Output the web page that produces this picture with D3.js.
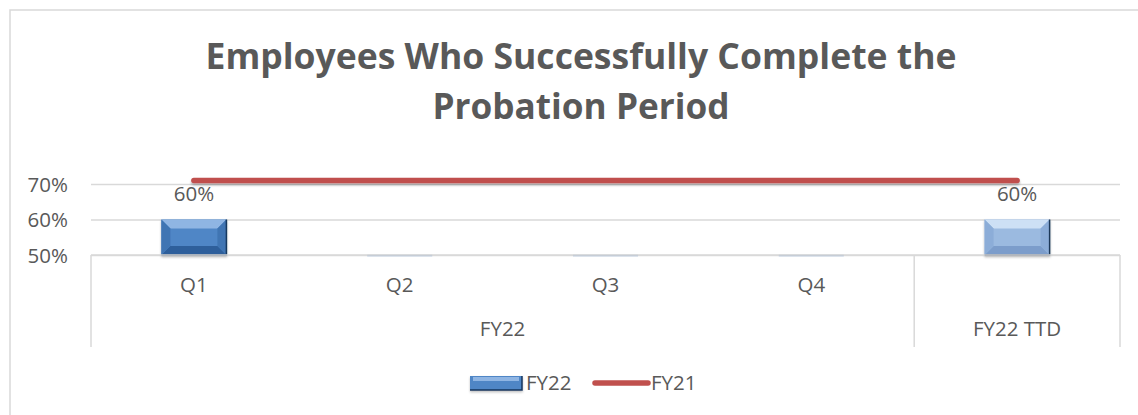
<!DOCTYPE html>
<html>
<head>
<meta charset="utf-8">
<script src="https://cdn.jsdelivr.net/npm/d3@7"></script>
<style>
  html, body { margin: 0; padding: 0; background: #fff; }
  svg { display: block; }
  text { font-family: "Open Sans", Lato, sans-serif; fill: #595959; }
</style>
</head>
<body>
<svg id="chart" width="1138" height="415"></svg>
<script>
// ---- data ----
const titleLines = ["Employees Who Successfully Complete the", "Probation Period"];
const categories = ["Q1", "Q2", "Q3", "Q4", "FY22 TTD"];
const categoryLabels = ["Q1", "Q2", "Q3", "Q4", ""];
const groupNames = ["FY22", "FY22 TTD"];
const groupSpans = [4, 1];
const fy22Values = [0.60, 0, 0, 0, 0.60];
const fy21Values = [0.71, 0.71, 0.71, 0.71, 0.71];
const yTicks = [0.5, 0.6, 0.7];
const seriesNames = ["FY22", "FY21"];

// ---- layout ----
const svg = d3.select("#chart");
const W = 1138, H = 415;
const plot = { left: 91, right: 1120, top: 184, bottom: 255 };
const textColor = "#595959", gridColor = "#d9d9d9";
const fs = "20.5px";

const defs = svg.append("defs");
const sh = defs.append("filter").attr("id", "lineShadow").attr("filterUnits", "userSpaceOnUse")
  .attr("x", 0).attr("y", 0).attr("width", W).attr("height", H);
sh.append("feDropShadow").attr("dx", 0).attr("dy", 2).attr("stdDeviation", 1.2).attr("flood-color", "#000").attr("flood-opacity", 0.3);
const bsh = defs.append("filter").attr("id", "barShadow").attr("filterUnits", "userSpaceOnUse")
  .attr("x", 0).attr("y", 0).attr("width", W).attr("height", H);
bsh.append("feDropShadow").attr("dx", 0).attr("dy", 1.5).attr("stdDeviation", 1.2).attr("flood-color", "#000").attr("flood-opacity", 0.25);

// outer border
svg.append("rect").attr("x", 10).attr("y", 10).attr("width", W + 20).attr("height", H + 20)
  .attr("fill", "#fff").attr("stroke", gridColor).attr("stroke-width", 1.5);

// title
const titleWidths = [751, 297];
const title = svg.append("text").attr("text-anchor", "middle")
  .style("font-weight", "bold").style("font-size", "35px");
title.selectAll("tspan").data(titleLines).join("tspan")
  .attr("x", 581).attr("y", (d, i) => 69 + i * 50)
  .attr("textLength", (d, i) => titleWidths[i]).attr("lengthAdjust", "spacingAndGlyphs")
  .text(d => d);

// scales
const x = d3.scaleBand().domain(categories).range([plot.left, plot.right]).padding(0);
const y = d3.scaleLinear().domain([0.5, 0.7]).range([plot.bottom, plot.top]);
const barW = x.bandwidth() * 0.316;

// gridlines & y labels
const yAxis = d3.axisLeft(y).tickValues(yTicks).tickFormat(d3.format(".0%"))
  .tickSize(-(plot.right - plot.left)).tickPadding(23);
const gy = svg.append("g").attr("transform", `translate(${plot.left},0)`).call(yAxis);
gy.select(".domain").remove();
gy.attr("font-family", null).attr("font-size", null);
gy.selectAll("line").attr("stroke", gridColor).attr("stroke-width", 1.5);
gy.selectAll("text").style("font-size", fs).attr("fill", textColor).attr("dy", "0.35em");

// bars
const palettes = [
  { main: "#4f86c6", top: "#8fb5e3", bottom: "#2d5e9b", side: "#3f74b3", edge: "#17375e" },
  { main: "#9bbae0", top: "#cde0f5", bottom: "#7c9dcb", side: "#8cadd8", edge: "#1f3759" }
];
const barG = svg.append("g");
categories.forEach((c, i) => {
  const v = fy22Values[i];
  const x0 = x(c) + (x.bandwidth() - barW) / 2, x1 = x0 + barW;
  const yTop = y(Math.max(v, 0.5)), yBot = y(0.5);
  const p = i === categories.length - 1 ? palettes[1] : palettes[0];
  const h = yBot - yTop;
  if (h <= 0.5) {
    barG.append("line").attr("x1", x0).attr("x2", x1).attr("y1", yBot + 0.5).attr("y2", yBot + 0.5)
      .attr("stroke", "#8eaad0").attr("stroke-width", 1.5);
    return;
  }
  const g = barG.append("g").attr("filter", "url(#barShadow)");
  const b = Math.min(9, h / 3);
  g.append("rect").attr("x", x0).attr("y", yTop).attr("width", barW).attr("height", h).attr("fill", p.main);
  g.append("polygon").attr("points", [[x0, yTop], [x1, yTop], [x1 - b, yTop + b], [x0 + b, yTop + b]].join(" ")).attr("fill", p.top);
  g.append("polygon").attr("points", [[x0, yBot], [x1, yBot], [x1 - b, yBot - b], [x0 + b, yBot - b]].join(" ")).attr("fill", p.bottom);
  g.append("polygon").attr("points", [[x0, yTop], [x0 + b, yTop + b], [x0 + b, yBot - b], [x0, yBot]].join(" ")).attr("fill", p.side);
  g.append("polygon").attr("points", [[x1, yTop], [x1 - b, yTop + b], [x1 - b, yBot - b], [x1, yBot]].join(" ")).attr("fill", p.side);
  g.append("path").attr("d", `M${x1},${yTop}V${yBot}H${x0}`).attr("fill", "none").attr("stroke", p.edge).attr("stroke-width", 1.5);
  // data label
  svg.append("text").attr("x", x(c) + x.bandwidth() / 2).attr("y", yTop - 19)
    .attr("text-anchor", "middle").style("font-size", fs).text(d3.format(".0%")(v));
});

// FY21 line
const line = d3.line().x((d, i) => x(categories[i]) + x.bandwidth() / 2).y(d => y(d));
svg.append("path").datum(fy21Values).attr("d", line).attr("fill", "none")
  .attr("stroke", "#c0504d").attr("stroke-width", 5.5).attr("stroke-linecap", "round")
  .attr("filter", "url(#lineShadow)");

// category axis (multi-level)
const axisBottom = 347;
svg.append("line").attr("x1", plot.left).attr("x2", plot.right).attr("y1", plot.bottom).attr("y2", plot.bottom)
  .attr("stroke", gridColor).attr("stroke-width", 1.5);
let acc = 0;
const bounds = [0];
groupSpans.forEach(s => { acc += s; bounds.push(acc); });
bounds.forEach(bi => {
  const xx = bi < categories.length ? x(categories[bi]) : plot.right;
  svg.append("line").attr("x1", xx).attr("x2", xx).attr("y1", plot.bottom).attr("y2", axisBottom)
    .attr("stroke", gridColor).attr("stroke-width", 1.5);
});
categories.forEach((c, i) => {
  if (!categoryLabels[i]) return;
  svg.append("text").attr("x", x(c) + x.bandwidth() / 2).attr("y", 285).attr("dy", "0.35em")
    .attr("text-anchor", "middle").style("font-size", fs).text(categoryLabels[i]);
});
groupNames.forEach((gname, gi) => {
  const a = x(categories[bounds[gi]]);
  const e = bounds[gi + 1] < categories.length ? x(categories[bounds[gi + 1]]) : plot.right;
  svg.append("text").attr("x", (a + e) / 2).attr("y", 329).attr("dy", "0.35em")
    .attr("text-anchor", "middle").style("font-size", fs).text(gname);
});

// legend
const lg = svg.append("g");
const sw = lg.append("g").attr("filter", "url(#barShadow)");
sw.append("rect").attr("x", 470).attr("y", 376).attr("width", 52).attr("height", 14).attr("fill", "#4f86c6");
sw.append("rect").attr("x", 473).attr("y", 377).attr("width", 46).attr("height", 4).attr("fill", "#8fb5e3");
sw.append("path").attr("d", "M522,376V390H470").attr("fill", "none").attr("stroke", "#17375e").attr("stroke-width", 1.5);
lg.append("text").attr("x", 526).attr("y", 383).attr("dy", "0.35em").style("font-size", fs).text(seriesNames[0]);
lg.append("line").attr("x1", 595).attr("x2", 648).attr("y1", 383).attr("y2", 383)
  .attr("stroke", "#c0504d").attr("stroke-width", 5.5).attr("stroke-linecap", "round");
lg.append("text").attr("x", 651).attr("y", 383).attr("dy", "0.35em").style("font-size", fs).text(seriesNames[1]);
</script>
</body>
</html>
